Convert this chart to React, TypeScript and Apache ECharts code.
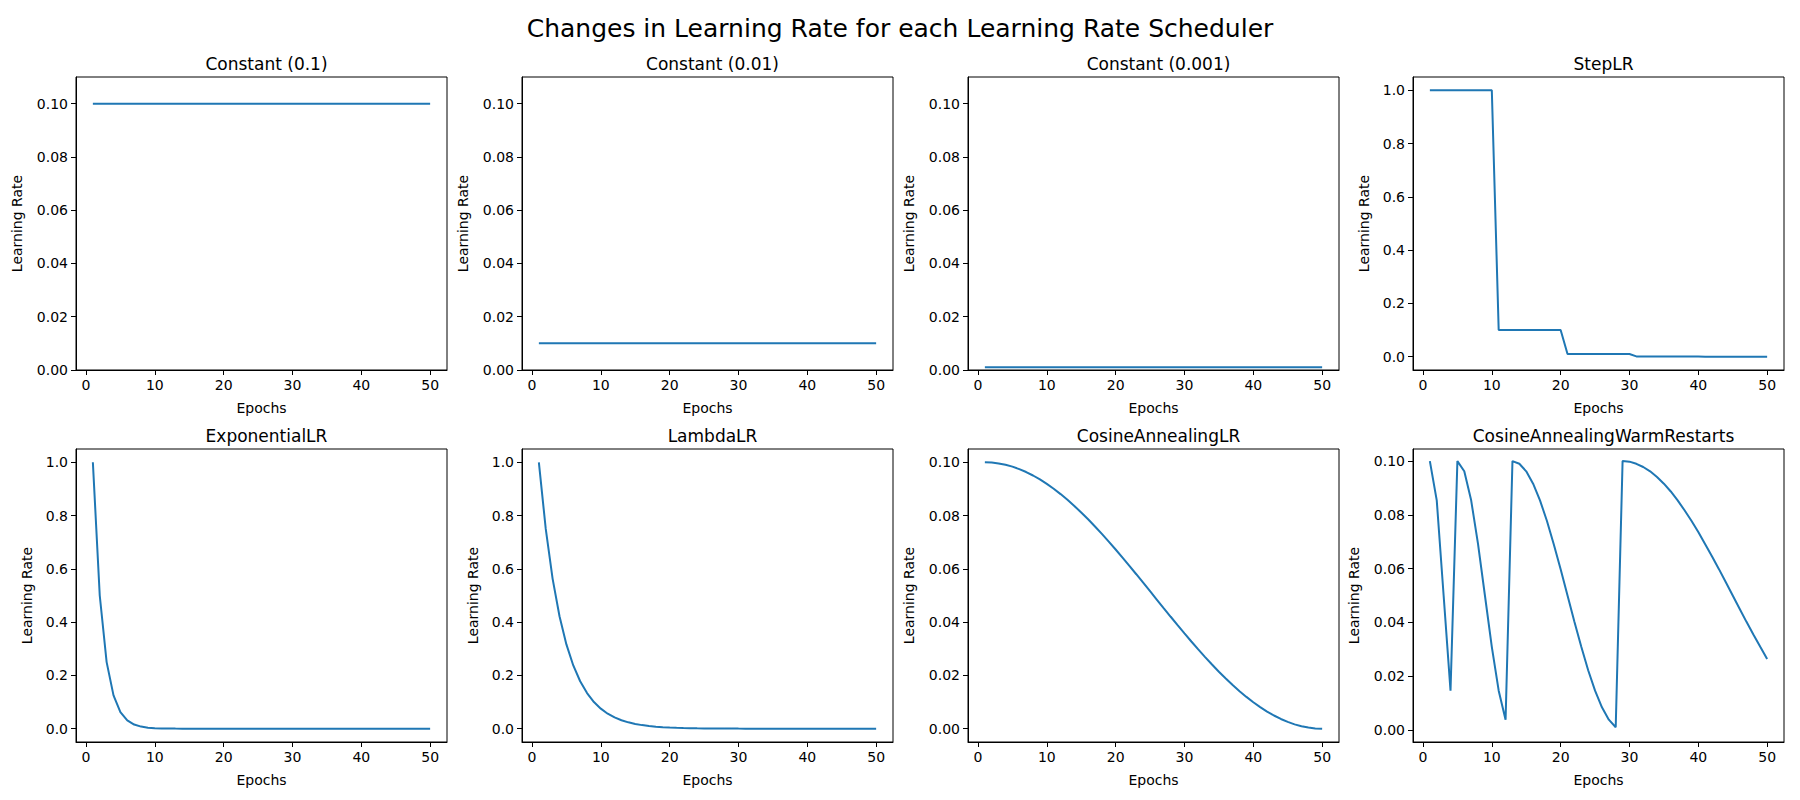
import React, { useEffect, useRef } from 'react';
import * as echarts from 'echarts';

const epochs = [1,2,3,4,5,6,7,8,9,10,11,12,13,14,15,16,17,18,19,20,21,22,23,24,25,26,27,28,29,30,31,32,33,34,35,36,37,38,39,40,41,42,43,44,45,46,47,48,49,50];

const constant01 = [0.1,0.1,0.1,0.1,0.1,0.1,0.1,0.1,0.1,0.1,0.1,0.1,0.1,0.1,0.1,0.1,0.1,0.1,0.1,0.1,0.1,0.1,0.1,0.1,0.1,0.1,0.1,0.1,0.1,0.1,0.1,0.1,0.1,0.1,0.1,0.1,0.1,0.1,0.1,0.1,0.1,0.1,0.1,0.1,0.1,0.1,0.1,0.1,0.1,0.1];
const constant001 = [0.01,0.01,0.01,0.01,0.01,0.01,0.01,0.01,0.01,0.01,0.01,0.01,0.01,0.01,0.01,0.01,0.01,0.01,0.01,0.01,0.01,0.01,0.01,0.01,0.01,0.01,0.01,0.01,0.01,0.01,0.01,0.01,0.01,0.01,0.01,0.01,0.01,0.01,0.01,0.01,0.01,0.01,0.01,0.01,0.01,0.01,0.01,0.01,0.01,0.01];
const constant0001 = [0.001,0.001,0.001,0.001,0.001,0.001,0.001,0.001,0.001,0.001,0.001,0.001,0.001,0.001,0.001,0.001,0.001,0.001,0.001,0.001,0.001,0.001,0.001,0.001,0.001,0.001,0.001,0.001,0.001,0.001,0.001,0.001,0.001,0.001,0.001,0.001,0.001,0.001,0.001,0.001,0.001,0.001,0.001,0.001,0.001,0.001,0.001,0.001,0.001,0.001];
const stepLR = [1,1,1,1,1,1,1,1,1,1,0.1,0.1,0.1,0.1,0.1,0.1,0.1,0.1,0.1,0.1,0.01,0.01,0.01,0.01,0.01,0.01,0.01,0.01,0.01,0.01,0.001,0.001,0.001,0.001,0.001,0.001,0.001,0.001,0.001,0.001,0.0001,0.0001,0.0001,0.0001,0.0001,0.0001,0.0001,0.0001,0.0001,0.0001];
const exponentialLR = [1,0.5,0.25,0.125,0.0625,0.03125,0.0156,0.0078,0.0039,0.002,0.001,0.0005,0.00024,0.00012,0.00006,0.00003,0.00002,0.00001,0,0,0,0,0,0,0,0,0,0,0,0,0,0,0,0,0,0,0,0,0,0,0,0,0,0,0,0,0,0,0,0];
const lambdaLR = [1,0.75,0.5625,0.4219,0.3164,0.2373,0.178,0.1335,0.1001,0.0751,0.0563,0.0422,0.0317,0.0238,0.0178,0.0134,0.01,0.0075,0.0056,0.0042,0.0032,0.0024,0.0018,0.0013,0.001,0.00075,0.00056,0.00042,0.00032,0.00024,0.00018,0.00013,0.0001,0.00008,0.00006,0.00004,0.00003,0.00002,0.00002,0.00001,0.00001,0.00001,0,0,0,0,0,0,0,0];
const cosineLR = [0.1,0.0999,0.09959,0.09908,0.09837,0.09745,0.09635,0.09505,0.09357,0.0919,0.09007,0.08807,0.08592,0.08361,0.08117,0.07861,0.07592,0.07313,0.07024,0.06727,0.06423,0.06113,0.05798,0.0548,0.0516,0.0484,0.0452,0.04202,0.03887,0.03577,0.03273,0.02976,0.02687,0.02408,0.02139,0.01883,0.01639,0.01408,0.01193,0.00993,0.0081,0.00643,0.00495,0.00365,0.00255,0.00163,0.00092,0.00041,0.0001,0];
const warmRestarts = [0.1,0.0854,0.05,0.0146,0.1,0.0962,0.0854,0.0691,0.05,0.0309,0.0146,0.0038,0.1,0.099,0.0962,0.0916,0.0854,0.0778,0.0691,0.0598,0.05,0.0402,0.0309,0.0222,0.0146,0.0084,0.0038,0.001,0.1,0.0998,0.099,0.0978,0.0962,0.0941,0.0916,0.0887,0.0854,0.0817,0.0778,0.0736,0.0691,0.0645,0.0598,0.0549,0.05,0.0451,0.0402,0.0355,0.0309,0.0264];

const titles = ['Constant (0.1)', 'Constant (0.01)', 'Constant (0.001)', 'StepLR', 'ExponentialLR', 'LambdaLR', 'CosineAnnealingLR', 'CosineAnnealingWarmRestarts'];
const seriesList = [constant01, constant001, constant0001, stepLR, exponentialLR, lambdaLR, cosineLR, warmRestarts];
const yMins = [0, 0, 0, -0.05, -0.05, -0.05, -0.005, -0.0045];
const yMaxs = [0.11, 0.11, 0.11, 1.05, 1.05, 1.05, 0.105, 0.1045];
const yTicks = [
  [0, 0.02, 0.04, 0.06, 0.08, 0.1],
  [0, 0.02, 0.04, 0.06, 0.08, 0.1],
  [0, 0.02, 0.04, 0.06, 0.08, 0.1],
  [0, 0.2, 0.4, 0.6, 0.8, 1.0],
  [0, 0.2, 0.4, 0.6, 0.8, 1.0],
  [0, 0.2, 0.4, 0.6, 0.8, 1.0],
  [0, 0.02, 0.04, 0.06, 0.08, 0.1],
  [0, 0.02, 0.04, 0.06, 0.08, 0.1],
];
const xTicks = [0, 10, 20, 30, 40, 50];

const colLefts = [76, 522, 968, 1413];
const rowTops = [77, 449];
const plotW = 371;
const plotH = 293;
const font = 'DejaVu Sans';

const App: React.FC = () => {
  const chartRef = useRef<HTMLDivElement>(null);

  useEffect(() => {
    const chartDom = chartRef.current!;
    const myChart = echarts.init(chartDom, undefined, { renderer: 'svg' });

    const grids: any[] = [];
    const xAxes: any[] = [];
    const yAxes: any[] = [];
    const series: any[] = [];
    const title: any[] = [{
      text: 'Changes in Learning Rate for each Learning Rate Scheduler',
      left: 'center', top: 11,
      textStyle: { fontFamily: font, fontSize: 25, fontWeight: 'normal', color: '#000' },
    }];

    seriesList.forEach((data, i) => {
      const left = colLefts[i % 4];
      const top = rowTops[Math.floor(i / 4)];
      const dec = yMaxs[i] > 0.5 ? 1 : 2;
      grids.push({ left, top, width: plotW, height: plotH, show: true, borderColor: '#000', borderWidth: 1, backgroundColor: 'transparent' });
      title.push({
        text: titles[i], left: left + plotW / 2, top: top - 27, textAlign: 'center',
        textStyle: { fontFamily: font, fontSize: 17, fontWeight: 'normal', color: '#000' },
      });
      xAxes.push({
        type: 'value', gridIndex: i, min: -1.45, max: 52.45,
        name: 'Epochs', nameLocation: 'middle', nameGap: 31,
        nameTextStyle: { fontFamily: font, fontSize: 14, color: '#000' },
        axisLine: { onZero: false, lineStyle: { color: '#000' } },
        axisTick: { show: true, customValues: xTicks, length: 5, lineStyle: { color: '#000' } },
        axisLabel: { customValues: xTicks, fontFamily: font, fontSize: 14, color: '#000', margin: 8 },
        splitLine: { show: false },
      });
      yAxes.push({
        type: 'value', gridIndex: i, min: yMins[i], max: yMaxs[i],
        name: 'Learning Rate', nameLocation: 'middle', nameGap: dec === 2 ? 52 : 42,
        nameTextStyle: { fontFamily: font, fontSize: 14, color: '#000' },
        axisLine: { show: true, onZero: false, lineStyle: { color: '#000' } },
        axisTick: { show: true, customValues: yTicks[i], length: 5, lineStyle: { color: '#000' } },
        axisLabel: {
          customValues: yTicks[i], fontFamily: font, fontSize: 14, color: '#000', margin: 8,
          formatter: (v: number) => v.toFixed(dec),
        },
        splitLine: { show: false },
      });
      series.push({
        type: 'line', xAxisIndex: i, yAxisIndex: i,
        data: epochs.map((e, k) => [e, data[k]]),
        showSymbol: false, lineStyle: { color: '#1f77b4', width: 2 }, itemStyle: { color: '#1f77b4' },
      });
    });

    const option: any = {
      animation: false,
      backgroundColor: '#fff',
      title,
      grid: grids,
      xAxis: xAxes,
      yAxis: yAxes,
      series,
    };

    myChart.setOption(option);

    return () => {
      myChart.dispose();
    };
  }, []);

  return <div ref={chartRef} style={{ position: 'absolute', left: 0, top: 0, width: 1800, height: 800 }} />;
};

export default App;
